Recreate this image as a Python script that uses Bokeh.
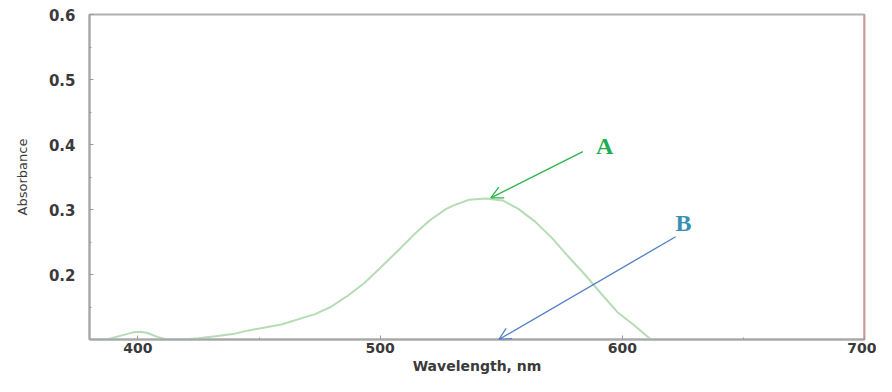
from bokeh.plotting import figure
from bokeh.models import Range1d, FixedTicker, Arrow, OpenHead, Label, Span
from bokeh.embed import file_html
from bokeh.resources import INLINE

# Spectrum
wavelength = [380, 387, 393, 398, 401, 404, 408, 412, 418, 425, 432, 440, 445.7, 459.2, 473.1,
              479.6, 486.5, 493.5, 500.0, 506.9, 513.9, 520.4, 527.3, 530.2, 536.7, 543.7, 550.6,
              557.1, 564.1, 571.0, 577.6, 584.5, 591.4, 598.0, 604.9, 611.8]
absorbance = [0.100, 0.100, 0.106, 0.111, 0.112, 0.110, 0.104, 0.100, 0.100, 0.102, 0.105, 0.109,
              0.114, 0.123, 0.139, 0.150, 0.167, 0.187, 0.210, 0.235, 0.261, 0.283, 0.301, 0.306,
              0.315, 0.317, 0.314, 0.301, 0.281, 0.256, 0.228, 0.200, 0.170, 0.142, 0.122, 0.100]

x_ticks = [400, 500, 600, 700]
x_minor = [450, 550, 650]
y_ticks = [0.2, 0.3, 0.4, 0.5, 0.6]
y_minor = [0.15, 0.25, 0.35, 0.45, 0.55]

# annotations: label, text position, arrow start, arrow end
ann_a = dict(text="A", tx=592.7, ty=0.397, x0=583.7, y0=0.389, x1=545.7, y1=0.318)
ann_b = dict(text="B", tx=625.3, ty=0.279, x0=622.0, y0=0.258, x1=549.0, y1=0.100)

p = figure(width=876, height=376, output_backend="svg", toolbar_location=None,
           x_range=Range1d(380, 700), y_range=Range1d(0.1, 0.6),
           min_border_left=89, min_border_right=12, min_border_top=14, min_border_bottom=10)
p.grid.visible = False
p.outline_line_color = "#b0b0b0"
p.outline_line_width = 2
p.background_fill_color = "white"

for ax in (p.xaxis[0], p.yaxis[0]):
    ax.axis_line_color = "#a8a8a8"
    ax.axis_line_width = 2
    ax.major_tick_line_color = "#999999"
    ax.minor_tick_line_color = "#999999"
    ax.major_tick_in = 4
    ax.major_tick_out = 0
    ax.minor_tick_in = 2
    ax.minor_tick_out = 0
    ax.major_label_text_font = "DejaVu Sans"
    ax.major_label_text_font_style = "bold"
    ax.major_label_text_font_size = "15px"
    ax.major_label_text_color = "#3a3a3a"
    ax.axis_label_text_font = "DejaVu Sans"
    ax.axis_label_text_color = "#3a3a3a"

p.xaxis.ticker = FixedTicker(ticks=x_ticks, minor_ticks=x_minor)
p.yaxis.ticker = FixedTicker(ticks=y_ticks, minor_ticks=y_minor)
p.xaxis.major_label_text_font_size = "14px"
p.xaxis.major_label_standoff = 3
p.xaxis.axis_label = "Wavelength, nm"
p.xaxis.axis_label_text_font_style = "bold"
p.xaxis.axis_label_text_font_size = "14px"
p.xaxis.axis_label_standoff = 2
p.yaxis.major_label_standoff = 14
p.yaxis.axis_label = "Absorbance"
p.yaxis.axis_label_text_font_style = "normal"
p.yaxis.axis_label_text_font_size = "13px"
p.yaxis.axis_label_standoff = 16

# red right border at 700
p.add_layout(Span(location=700, dimension="height", line_color="#f08080", line_width=2))

p.line(wavelength, absorbance, line_color="#b5dcb5", line_width=2)

for a, col, tcol in ((ann_a, "#2fb34a", "#1fae4f"), (ann_b, "#4f7fc4", "#3a8fb5")):
    p.add_layout(Arrow(end=OpenHead(size=12, line_color=col, line_width=1.3),
                       x_start=a["x0"], y_start=a["y0"], x_end=a["x1"], y_end=a["y1"],
                       line_color=col, line_width=1.3))
    p.add_layout(Label(x=a["tx"], y=a["ty"], text=a["text"], text_font="Liberation Serif",
                       text_font_style="bold", text_font_size="24px", text_color=tcol,
                       text_align="center", text_baseline="middle"))

open("out.html", "w").write(file_html(p, INLINE))
